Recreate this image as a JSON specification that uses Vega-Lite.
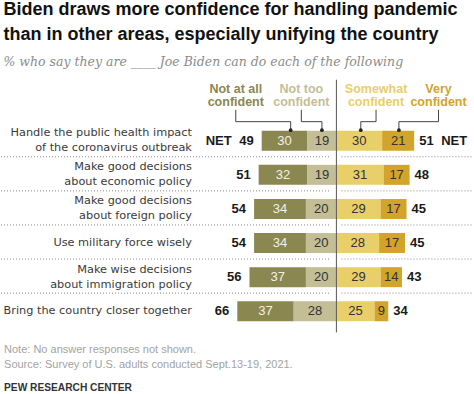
{
  "$schema": "https://vega.github.io/schema/vega-lite/v6.json",
  "width": 474,
  "height": 394,
  "autosize": {"type": "fit", "contains": "padding"},
  "padding": 0,
  "background": "white",
  "title": {
    "text": ["Biden draws more confidence for handling pandemic", "than in other areas, especially unifying the country"],
    "subtitle": "% who say they are ____ Joe Biden can do each of the following",
    "anchor": "start",
    "dx": 3,
    "font": "Liberation Sans",
    "fontSize": 18,
    "fontWeight": "bold",
    "lineHeight": 25,
    "color": "#111111",
    "subtitleFont": "DejaVu Serif",
    "subtitleFontStyle": "italic",
    "subtitleFontSize": 12.5,
    "subtitleColor": "#8c8c8c",
    "subtitlePadding": 12,
    "offset": 4
  },
  "config": {
    "view": {"stroke": null},
    "text": {"font": "Liberation Sans"}
  },
  "datasets": {
    "resp": [
      {"row": 0, "category": "Not at all confident", "value": -30, "pct": 30},
      {"row": 0, "category": "Not too confident", "value": -19, "pct": 19},
      {"row": 0, "category": "Somewhat confident", "value": 30, "pct": 30},
      {"row": 0, "category": "Very confident", "value": 21, "pct": 21},
      {"row": 1, "category": "Not at all confident", "value": -32, "pct": 32},
      {"row": 1, "category": "Not too confident", "value": -19, "pct": 19},
      {"row": 1, "category": "Somewhat confident", "value": 31, "pct": 31},
      {"row": 1, "category": "Very confident", "value": 17, "pct": 17},
      {"row": 2, "category": "Not at all confident", "value": -34, "pct": 34},
      {"row": 2, "category": "Not too confident", "value": -20, "pct": 20},
      {"row": 2, "category": "Somewhat confident", "value": 29, "pct": 29},
      {"row": 2, "category": "Very confident", "value": 17, "pct": 17},
      {"row": 3, "category": "Not at all confident", "value": -34, "pct": 34},
      {"row": 3, "category": "Not too confident", "value": -20, "pct": 20},
      {"row": 3, "category": "Somewhat confident", "value": 28, "pct": 28},
      {"row": 3, "category": "Very confident", "value": 17, "pct": 17},
      {"row": 4, "category": "Not at all confident", "value": -37, "pct": 37},
      {"row": 4, "category": "Not too confident", "value": -20, "pct": 20},
      {"row": 4, "category": "Somewhat confident", "value": 29, "pct": 29},
      {"row": 4, "category": "Very confident", "value": 14, "pct": 14},
      {"row": 5, "category": "Not at all confident", "value": -37, "pct": 37},
      {"row": 5, "category": "Not too confident", "value": -28, "pct": 28},
      {"row": 5, "category": "Somewhat confident", "value": 25, "pct": 25},
      {"row": 5, "category": "Very confident", "value": 9, "pct": 9}
    ],
    "items": [
      {"row": 0, "task": "Handle the public health impact\nof the coronavirus outbreak", "netNo": 49, "netYes": 51},
      {"row": 1, "task": "Make good decisions\nabout economic policy", "netNo": 51, "netYes": 48},
      {"row": 2, "task": "Make good decisions\nabout foreign policy", "netNo": 54, "netYes": 45},
      {"row": 3, "task": "Use military force wisely", "netNo": 54, "netYes": 45},
      {"row": 4, "task": "Make wise decisions\nabout immigration policy", "netNo": 56, "netYes": 43},
      {"row": 5, "task": "Bring the country closer together", "netNo": 66, "netYes": 34}
    ],
    "legend": [
      {"category": "Not at all confident", "label": "Not at all\nconfident", "lx": -66, "dx": -30},
      {"category": "Not too confident", "label": "Not too\nconfident", "lx": -23, "dx": -9.5},
      {"category": "Somewhat confident", "label": "Somewhat\nconfident", "lx": 26, "dx": 16},
      {"category": "Very confident", "label": "Very\nconfident", "lx": 67, "dx": 41}
    ]
  },
  "layer": [
    {
      "data": {"name": "items"},
      "transform": [{"filter": "datum.row < 5"}],
      "mark": {"type": "rule", "color": "#8a8a8a", "strokeWidth": 1, "strokeDash": [1, 2], "yOffset": 16},
      "encoding": {
        "x": {"datum": -220, "type": "quantitative", "axis": null},
        "x2": {"datum": -4.6},
        "y": {"field": "row", "type": "quantitative", "axis": null}
      }
    },
    {
      "data": {"name": "items"},
      "transform": [{"filter": "datum.row < 5"}],
      "mark": {"type": "rule", "color": "#8a8a8a", "strokeWidth": 1, "strokeDash": [1, 2], "yOffset": 16},
      "encoding": {
        "x": {"datum": 3.3, "type": "quantitative", "axis": null},
        "x2": {"datum": 89.6},
        "y": {"field": "row", "type": "quantitative", "axis": null}
      }
    },
    {
      "data": {"name": "resp"},
      "transform": [
        {"filter": "datum.value < 0"},
        {"lookup": "row", "from": {"data": {"name": "items"}, "key": "row", "fields": ["netNo"]}}
      ],
      "encoding": {
        "y": {
          "field": "row",
          "type": "quantitative",
          "scale": {"domain": [-1.87, 7.28], "reverse": true, "nice": false, "zero": false},
          "axis": null
        },
        "order": {"field": "category", "sort": "descending"},
        "detail": {"field": "category"}
      },
      "layer": [
        {
          "mark": {"type": "bar", "orient": "horizontal", "size": 20},
          "encoding": {
            "x": {"field": "value", "type": "quantitative", "stack": "zero", "axis": null, "scale": {"domain": [-220, 89.6], "nice": false, "zero": false}},
            "color": {
              "field": "category", "type": "nominal", "legend": null,
              "scale": {"domain": ["Not at all confident", "Not too confident", "Somewhat confident", "Very confident"], "range": ["#8a8750", "#c3be96", "#e8cf6a", "#d2a429"]}
            }
          }
        },
        {
          "mark": {"type": "text", "fontSize": 13},
          "encoding": {
            "x": {"field": "value", "type": "quantitative", "stack": "zero", "bandPosition": 0.5, "axis": null},
            "text": {"field": "pct", "type": "quantitative"},
            "color": {"condition": {"test": "datum.category === 'Not at all confident'", "value": "#f3f1e6"}, "value": "#333333"}
          }
        },
        {
          "mark": {"type": "text", "fontSize": 13, "fontWeight": "bold", "align": "right", "dx": -8, "color": "#1a1a1a"},
          "encoding": {
            "x": {"field": "value", "type": "quantitative", "stack": "zero", "axis": null},
            "text": {"field": "netNo", "type": "quantitative", "condition": {"test": "datum.category !== 'Not at all confident'", "value": ""}}
          }
        },
        {
          "mark": {"type": "text", "fontSize": 13, "fontWeight": "bold", "align": "right", "dx": -30, "color": "#1a1a1a"},
          "encoding": {
            "x": {"field": "value", "type": "quantitative", "stack": "zero", "axis": null},
            "text": {"condition": {"test": "datum.category === 'Not at all confident' && datum.row === 0", "value": "NET"}, "value": ""}
          }
        }
      ]
    },
    {
      "data": {"name": "resp"},
      "transform": [
        {"filter": "datum.value > 0"},
        {"lookup": "row", "from": {"data": {"name": "items"}, "key": "row", "fields": ["netYes"]}}
      ],
      "encoding": {
        "y": {"field": "row", "type": "quantitative", "axis": null},
        "order": {"field": "category", "sort": "ascending"},
        "detail": {"field": "category"}
      },
      "layer": [
        {
          "mark": {"type": "bar", "orient": "horizontal", "size": 20},
          "encoding": {
            "x": {"field": "value", "type": "quantitative", "stack": "zero", "axis": null},
            "color": {"field": "category", "type": "nominal", "legend": null}
          }
        },
        {
          "mark": {"type": "text", "fontSize": 13, "color": "#333333"},
          "encoding": {
            "x": {"field": "value", "type": "quantitative", "stack": "zero", "bandPosition": 0.5, "axis": null},
            "text": {"field": "pct", "type": "quantitative"}
          }
        },
        {
          "mark": {"type": "text", "fontSize": 13, "fontWeight": "bold", "align": "left", "dx": 5, "color": "#1a1a1a"},
          "encoding": {
            "x": {"field": "value", "type": "quantitative", "stack": "zero", "axis": null},
            "text": {"field": "netYes", "type": "quantitative", "condition": {"test": "datum.category !== 'Very confident'", "value": ""}}
          }
        },
        {
          "mark": {"type": "text", "fontSize": 13, "fontWeight": "bold", "align": "left", "dx": 27, "color": "#1a1a1a"},
          "encoding": {
            "x": {"field": "value", "type": "quantitative", "stack": "zero", "axis": null},
            "text": {"condition": {"test": "datum.category === 'Very confident' && datum.row === 0", "value": "NET"}, "value": ""}
          }
        }
      ]
    },
    {
      "data": {"name": "items"},
      "transform": [{"filter": "indexof(datum.task, '\\n') >= 0"}],
      "mark": {"type": "text", "align": "right", "font": "DejaVu Sans", "fontSize": 11.3, "lineBreak": "\n", "lineHeight": 15, "dy": -7.5, "color": "#3a3a3a"},
      "encoding": {
        "x": {"datum": -94.8, "type": "quantitative", "axis": null},
        "y": {"field": "row", "type": "quantitative", "axis": null},
        "text": {"field": "task"}
      }
    },
    {
      "data": {"name": "items"},
      "transform": [{"filter": "indexof(datum.task, '\\n') < 0"}],
      "mark": {"type": "text", "align": "right", "font": "DejaVu Sans", "fontSize": 11.3, "color": "#3a3a3a"},
      "encoding": {
        "x": {"datum": -94.8, "type": "quantitative", "axis": null},
        "y": {"field": "row", "type": "quantitative", "axis": null},
        "text": {"field": "task"}
      }
    },
    {
      "data": {"name": "legend"},
      "mark": {"type": "text", "fontSize": 12.5, "fontWeight": "bold", "lineBreak": "\n", "lineHeight": 13},
      "encoding": {
        "x": {"field": "lx", "type": "quantitative", "axis": null},
        "y": {"datum": -1.53, "type": "quantitative", "axis": null},
        "text": {"field": "label"},
        "color": {"field": "category", "type": "nominal", "legend": null}
      }
    },
    {
      "data": {"name": "legend"},
      "mark": {"type": "rule", "color": "#444444", "strokeWidth": 1},
      "encoding": {
        "x": {"field": "lx", "type": "quantitative", "axis": null},
        "y": {"datum": -0.91, "type": "quantitative", "axis": null},
        "y2": {"datum": -0.56}
      }
    },
    {
      "data": {"name": "legend"},
      "mark": {"type": "rule", "color": "#444444", "strokeWidth": 1},
      "encoding": {
        "x": {"field": "lx", "type": "quantitative", "axis": null},
        "x2": {"field": "dx"},
        "y": {"datum": -0.56, "type": "quantitative", "axis": null}
      }
    },
    {
      "data": {"name": "legend"},
      "mark": {"type": "rule", "color": "#444444", "strokeWidth": 1},
      "encoding": {
        "x": {"field": "dx", "type": "quantitative", "axis": null},
        "y": {"datum": -0.56, "type": "quantitative", "axis": null},
        "y2": {"datum": -0.31}
      }
    },
    {
      "data": {"name": "legend"},
      "mark": {"type": "point", "filled": true, "size": 14, "color": "#222222", "opacity": 1},
      "encoding": {
        "x": {"field": "dx", "type": "quantitative", "axis": null},
        "y": {"datum": -0.31, "type": "quantitative", "axis": null}
      }
    },
    {
      "data": {"values": [{}]},
      "mark": {"type": "rule", "color": "#555555", "strokeWidth": 1},
      "encoding": {
        "x": {"datum": 0, "type": "quantitative", "axis": null},
        "y": {"datum": -1.79, "type": "quantitative", "axis": null},
        "y2": {"datum": 5.62}
      }
    },
    {
      "data": {"values": [{}]},
      "mark": {"type": "text", "align": "left", "fontSize": 11, "color": "#a3a3a3", "text": "Note: No answer responses not shown."},
      "encoding": {
        "x": {"datum": -218, "type": "quantitative", "axis": null},
        "y": {"datum": 6.15, "type": "quantitative", "axis": null}
      }
    },
    {
      "data": {"values": [{}]},
      "mark": {"type": "text", "align": "left", "fontSize": 11, "color": "#a3a3a3", "text": "Source: Survey of U.S. adults conducted Sept.13-19, 2021."},
      "encoding": {
        "x": {"datum": -218, "type": "quantitative", "axis": null},
        "y": {"datum": 6.59, "type": "quantitative", "axis": null}
      }
    },
    {
      "data": {"values": [{}]},
      "mark": {"type": "text", "align": "left", "fontSize": 10.2, "fontWeight": "bold", "color": "#333333", "text": "PEW RESEARCH CENTER"},
      "encoding": {
        "x": {"datum": -218, "type": "quantitative", "axis": null},
        "y": {"datum": 7.26, "type": "quantitative", "axis": null}
      }
    }
  ]
}
